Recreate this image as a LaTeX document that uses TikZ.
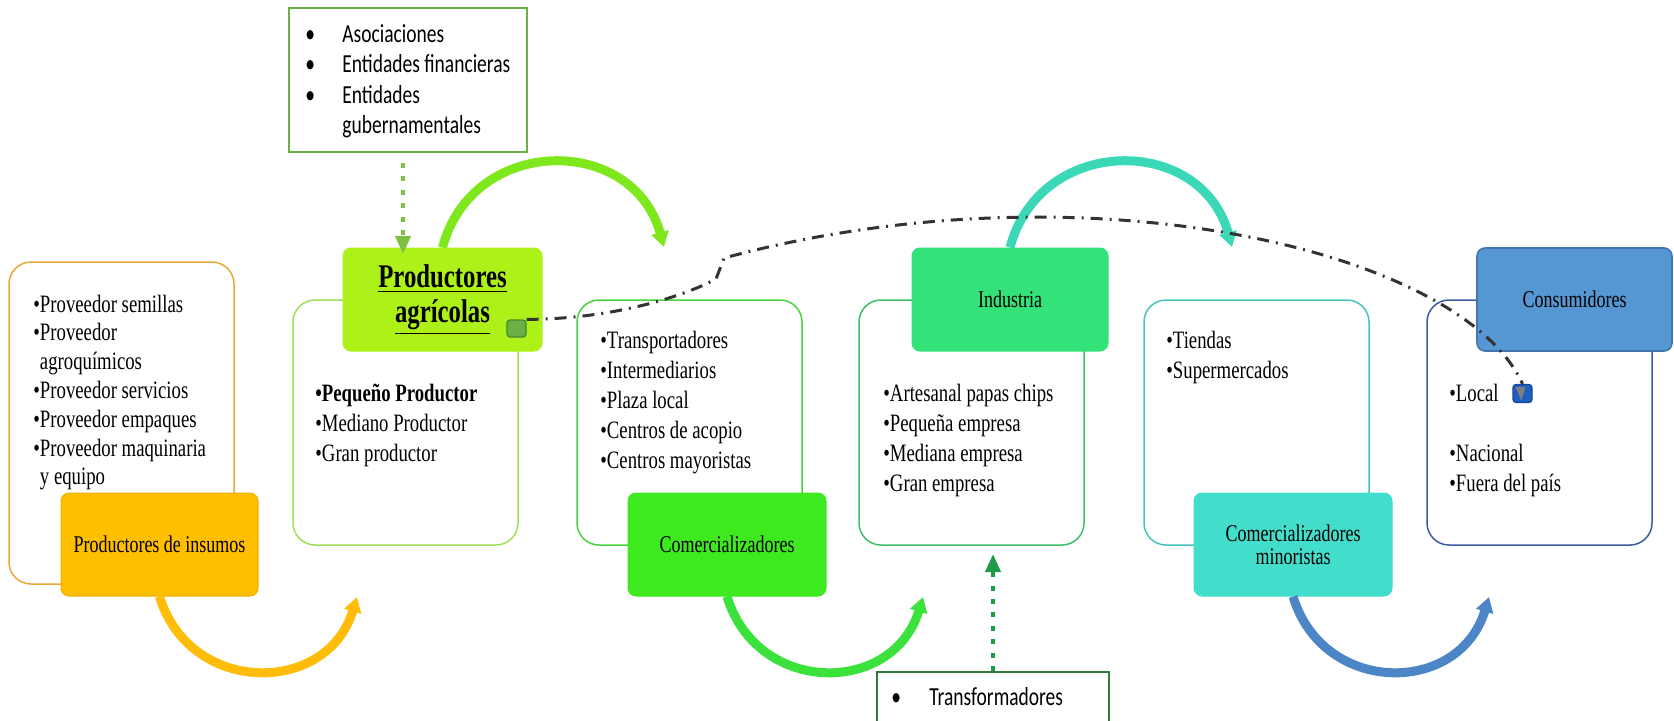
\documentclass[tikz,border=0pt]{standalone}
\usepackage{fontspec}
\setmainfont{Liberation Serif}[FakeStretch=0.75]
\newfontfamily\calfont{Carlito}[FakeStretch=0.75]
\usetikzlibrary{arrows.meta}

\definecolor{insfill}{HTML}{FFBF00}
\definecolor{insline}{HTML}{E8A838}
\definecolor{pafill}{HTML}{ADF119}
\definecolor{paline}{HTML}{9EDF5C}
\definecolor{comfill}{HTML}{3EE920}
\definecolor{comline}{HTML}{45D43C}
\definecolor{indfill}{HTML}{34E27A}
\definecolor{indline}{HTML}{3CBF68}
\definecolor{minfill}{HTML}{43DDCC}
\definecolor{minline}{HTML}{48C4B8}
\definecolor{confill}{HTML}{5597D3}
\definecolor{conedge}{HTML}{4475AE}
\definecolor{conline}{HTML}{3A5C9E}
\definecolor{arcorange}{HTML}{FFBD0A}
\definecolor{arclime}{HTML}{7EE81C}
\definecolor{arcgreen}{HTML}{3CE23C}
\definecolor{arcteal}{HTML}{3AD8B6}
\definecolor{arcblue}{HTML}{4D86C6}
\definecolor{asoline}{HTML}{6DAE45}
\definecolor{asodot}{HTML}{7CC044}
\definecolor{trline}{HTML}{357A38}
\definecolor{trdot}{HTML}{1F9B48}
\definecolor{linkgray}{HTML}{333333}
\definecolor{tipgray}{HTML}{7F7F7F}
\definecolor{sqgreen}{HTML}{6DAE45}
\definecolor{sqgreenedge}{HTML}{3D8B2F}
\definecolor{sqblue}{HTML}{1F5FC0}
\definecolor{sqblueedge}{HTML}{17479A}

\newcommand\sqbul{\makebox[18.5pt][l]{•}}

\tikzset{
  frame/.style={draw, line width=0.75pt, rounded corners=11pt, inner sep=0pt,
    minimum width=112.5pt, minimum height=122.5pt},
  tag/.style={rounded corners=4pt, inner sep=0pt, line width=0.5pt,
    minimum width=99pt, minimum height=51.5pt, align=center,
    font=\fontsize{12}{13}\selectfont},
  items/.style={inner sep=0pt, anchor=base west, font=\fontsize{12.5}{15}\selectfont},
  flow/.style={line width=4.5pt, -{Triangle[length=7.5pt,width=8.5pt]}},
  feed/.style={line width=2pt, dash pattern=on 2.5pt off 4.2pt,
    -{Triangle[length=9pt,width=7.5pt]}},
  link/.style={linkgray, line width=1.5pt, dash pattern=on 6pt off 3.5pt on 1pt off 3.5pt},
  note/.style={draw, line width=1pt, inner sep=0pt},
  handle/.style={draw, line width=0.6pt, rounded corners=1.5pt, inner sep=0pt,
    minimum width=9.5pt, minimum height=9pt},
}

\begin{document}
\begin{tikzpicture}[x=0.5pt,y=-0.5pt]
\useasboundingbox (0,0) rectangle (1674,720);
\clip (0,0) rectangle (1674,720);

% outlined group frames
\node[frame, draw=insline, minimum height=161pt] (f1) at (121.5,423) {};
\node[frame, draw=paline]  (f2) at (405.5,422.5) {};
\node[frame, draw=comline] (f3) at (689.5,422.5) {};
\node[frame, draw=indline] (f4) at (971.5,422.5) {};
\node[frame, draw=minline] (f5) at (1256.5,422.5) {};
\node[frame, draw=conline] (f6) at (1539.5,422.5) {};

% item lists
\node[items, font=\fontsize{12.5}{14.4}\selectfont] (l1) at (33,312)
  {\begin{tabular}[t]{@{}l@{}l@{}}•&Proveedor semillas\\•&Proveedor\\&agroquímicos\\•&Proveedor servicios\\•&Proveedor empaques\\•&Proveedor maquinaria\\&y equipo\end{tabular}};
\node[items] (l2) at (315,401)
  {\begin{tabular}[t]{@{}l@{}l@{}}\textbf{•}&\textbf{Pequeño Productor}\\•&Mediano Productor\\•&Gran productor\end{tabular}};
\node[items] (l3) at (600,348)
  {\begin{tabular}[t]{@{}l@{}l@{}}•&Transportadores\\•&Intermediarios\\•&Plaza local\\•&Centros de acopio\\•&Centros mayoristas\end{tabular}};
\node[items] (l4) at (883,401)
  {\begin{tabular}[t]{@{}l@{}l@{}}•&Artesanal papas chips\\•&Pequeña empresa\\•&Mediana empresa\\•&Gran empresa\end{tabular}};
\node[items] (l5) at (1166,348)
  {\begin{tabular}[t]{@{}l@{}l@{}}•&Tiendas\\•&Supermercados\end{tabular}};
\node[items] (l6) at (1449,401)
  {\begin{tabular}[t]{@{}l@{}l@{}}•&Local\\&\\•&Nacional\\•&Fuera del país\end{tabular}};

% filled stage labels
\node[tag, fill=insfill, draw=insfill!92!black, minimum width=98.5pt] (ins) at (159.5,544.5) {Productores de insumos};
\node[tag, fill=pafill, draw=pafill, minimum width=99.5pt,
      font=\fontsize{16.5}{17.5}\selectfont\bfseries] (pa) at (442.5,299.5)
  {\underline{Productores}\\\underline{agrícolas}};
\node[tag, fill=comfill, draw=comfill] (com) at (727,544.5) {Comercializadores};
\node[tag, fill=indfill, draw=indfill, minimum width=98pt] (ind) at (1010,299.5) {Industria};
\node[tag, fill=minfill, draw=minfill, font=\fontsize{12}{11.5}\selectfont] (min) at (1293,544.5)
  {Comercializadores\\minoristas};
\node[tag, fill=confill, draw=conedge, line width=0.8pt, minimum width=97.5pt] (con) at (1574.5,299.5) {Consumidores};

% flow arrows between stages
\coordinate (e1) at (357,597);
\coordinate (e2) at (923,597);
\coordinate (e3) at (1489,597);
\coordinate (t1) at (664,247);
\coordinate (t2) at (1232,247);
\draw[flow, arcorange] (ins.south) .. controls +(30,99) and +(-30,99) .. (e1);
\draw[flow, arcgreen]  (com.south) .. controls +(30,99) and +(-30,99) .. (e2);
\draw[flow, arcblue]   (min.south) .. controls +(30,99) and +(-30,99) .. (e3);
\draw[flow, arclime]   (pa.north)  .. controls +(30,-113) and +(-31,-113) .. (t1);
\draw[flow, arcteal]   (ind.north) .. controls +(30,-113) and +(-31,-113) .. (t2);

% support boxes
\node[note, draw=asoline, minimum width=119pt, minimum height=72pt] (aso) at (408,80) {};
\node[inner sep=0pt, anchor=base west, font=\calfont\fontsize{13}{15.25}\selectfont] (asotx) at (305,42)
  {\begin{tabular}[t]{@{}l@{}}\sqbul Asociaciones\\\sqbul Entidades financieras\\\sqbul Entidades\\\hspace*{18.5pt}gubernamentales\end{tabular}};
\node[note, draw=trline, minimum width=116pt, minimum height=50pt] (tr) at (993,722) {};
\node[inner sep=0pt, anchor=base west, font=\calfont\fontsize{13}{15.25}\selectfont] (trtx) at (891,705)
  {\makebox[19pt][l]{•}Transformadores};

\draw[feed, asodot] ([xshift=-2.5pt,yshift=-5pt]aso.south) -- ++(0,91);
\draw[feed, trdot] (tr.north) -- ++(0,-117);

% connector handles
\node[handle, fill=sqgreen, draw=sqgreenedge, minimum height=8.5pt] (h1) at (516.5,328.5) {};
\node[handle, fill=sqblue, draw=sqblueedge] (h2) at (1522.5,393.5) {};

% dash-dot link from producers to consumers, ending in the blue handle
\draw[link]
  (h1.north east) .. controls (610,319) and (680,298) .. (716,279)
  -- (724,258) .. controls (1084,161) and (1462,250) .. (h2.north);
\fill[tipgray] ([shift={(-3.5pt,3.2pt)}]h2.center) -- ([shift={(1.5pt,3.2pt)}]h2.center)
  -- ([shift={(-0.6pt,-3.4pt)}]h2.center) -- cycle;
\end{tikzpicture}
\end{document}
